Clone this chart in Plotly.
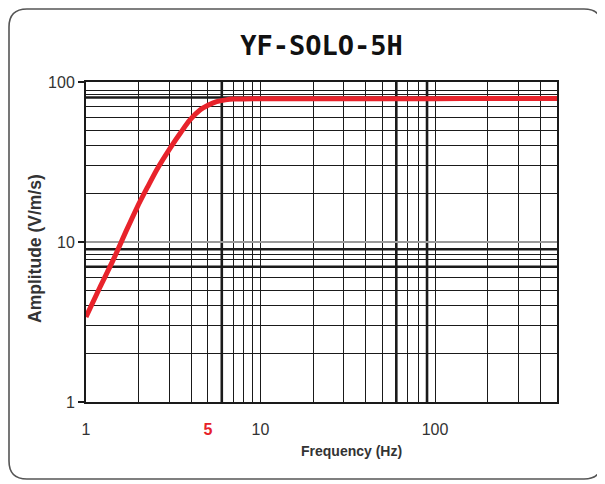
import plotly.graph_objects as go

# ---- data ----
freq_hz = [1.0, 1.2, 1.43, 1.71, 1.97, 2.25, 2.54, 3.03, 3.5, 3.94, 4.5, 5.0, 5.6, 6.3, 7.0, 8.0, 10, 20, 50, 100, 200, 500]
amplitude = [3.4, 5.2, 7.7, 11.9, 16.6, 22.0, 28.2, 38.5, 48.5, 57.9, 66.8, 71.5, 75.3, 77.3, 78.3, 78.4, 78.5, 78.5, 78.6, 78.7, 78.8, 78.8]

x_label_vals = [1, 5, 10, 100]
x_label_text = ["1", "<span style='color:#e62129'><b>5</b></span>", "10", "100"]
x_grid_vals = [2, 3, 4, 6, 7, 8, 9, 20, 30, 40, 50, 60, 70, 80, 90, 200, 300, 400]
x_heavy_vals = [6, 60, 90]

y_label_vals = [1, 10, 100]
y_label_text = ["1", "10", "100"]
y_grid_vals = [2, 3, 4, 5, 6, 7, 7.8, 8.4, 9, 20, 30, 40, 50, 60, 70, 80, 84, 88]
y_heavy_vals = [7, 9, 80]

title_text = "YF-SOLO-5H"
x_title = "Frequency (Hz)"
y_title = "Amplitude (V/m/s)"

# ---- layout geometry (window pixels; page body has an 8px margin) ----
OFF = 8
W, H = 605 - OFF, 484 - OFF
L, R, T, B = 86 - OFF, 557 - OFF, 82 - OFF, 402 - OFF
pw, ph = R - L, B - T


def px(xw):
    return (xw - OFF - L) / pw


def py(yw):
    return (B - (yw - OFF)) / ph


fig = go.Figure()
fig.add_trace(go.Scatter(
    x=freq_hz, y=amplitude, mode="lines",
    line=dict(color="#e8232b", width=5, shape="spline", smoothing=0.7),
    hoverinfo="skip", showlegend=False,
))

shapes = []
for v in x_heavy_vals:
    shapes.append(dict(type="line", xref="x", yref="paper", x0=v, x1=v, y0=0, y1=1,
                       line=dict(color="#1a1a1a", width=2.6), layer="below"))
for v in y_heavy_vals:
    shapes.append(dict(type="line", xref="paper", yref="y", x0=0, x1=1, y0=v, y1=v,
                       line=dict(color="#1a1a1a", width=2.6), layer="below"))

# rounded outer frame (window coords)
x0p, x1p, y0p, y1p, r = 9, 602, 9, 479, 18
path = (
    f"M {px(x0p + r)},{py(y0p)} L {px(x1p - r)},{py(y0p)} "
    f"Q {px(x1p)},{py(y0p)} {px(x1p)},{py(y0p + r)} "
    f"L {px(x1p)},{py(y1p - r)} Q {px(x1p)},{py(y1p)} {px(x1p - r)},{py(y1p)} "
    f"L {px(x0p + r)},{py(y1p)} Q {px(x0p)},{py(y1p)} {px(x0p)},{py(y1p - r)} "
    f"L {px(x0p)},{py(y0p + r)} Q {px(x0p)},{py(y0p)} {px(x0p + r)},{py(y0p)} Z"
)
shapes.append(dict(type="path", xref="paper", yref="paper", path=path,
                   line=dict(color="#555555", width=1.6)))

tick_font = dict(family="Liberation Sans, Arial, sans-serif", size=16, color="#333333")

fig.update_layout(
    width=W, height=H,
    margin=dict(l=L, r=W - R, t=T, b=H - B, pad=0),
    paper_bgcolor="white", plot_bgcolor="white",
    shapes=shapes,
    title=dict(text=title_text, x=0.5, xref="paper", xanchor="center",
               y=1 - (46 - OFF) / H, yref="container", yanchor="middle",
               font=dict(family="DejaVu Sans Mono, monospace", size=27, color="#111111",
                         weight="bold")),
    xaxis=dict(
        type="log", range=[0, 2.699],
        tickmode="array", tickvals=x_label_vals, ticktext=x_label_text,
        ticks="outside", ticklen=12, tickcolor="rgba(0,0,0,0)", tickfont=tick_font,
        showgrid=True, gridcolor="#1a1a1a", gridwidth=1.2,
        minor=dict(tickmode="array", tickvals=x_grid_vals, showgrid=True,
                   gridcolor="#1a1a1a", gridwidth=1.2, ticks=""),
        showline=True, linecolor="#1a1a1a", linewidth=2, mirror=True,
        zeroline=False, fixedrange=True,
    ),
    yaxis=dict(
        type="log", range=[0, 2],
        tickmode="array", tickvals=y_label_vals, ticktext=y_label_text,
        ticks="outside", ticklen=6, tickcolor="#1a1a1a", tickwidth=2, tickfont=tick_font,
        showgrid=True, gridcolor="#9a9a9a", gridwidth=2,
        minor=dict(tickmode="array", tickvals=y_grid_vals, showgrid=True,
                   gridcolor="#1a1a1a", gridwidth=1.2, ticks=""),
        showline=True, linecolor="#1a1a1a", linewidth=2, mirror=True,
        zeroline=False, fixedrange=True,
    ),
    annotations=[
        dict(text=f"<b>{x_title}</b>", xref="paper", yref="paper",
             x=px(351), y=py(451), xanchor="center", yanchor="middle", showarrow=False,
             font=dict(family="Liberation Sans Narrow, Liberation Sans, Arial, sans-serif",
                       size=14, color="#333333")),
        dict(text=f"<b>{y_title}</b>", xref="paper", yref="paper", textangle=-90,
             x=px(35), y=py(249), xanchor="center", yanchor="middle", showarrow=False,
             font=dict(family="Liberation Sans Narrow, Liberation Sans, Arial, sans-serif",
                       size=17.5, color="#333333")),
    ],
)

fig.write_html("out.html")
